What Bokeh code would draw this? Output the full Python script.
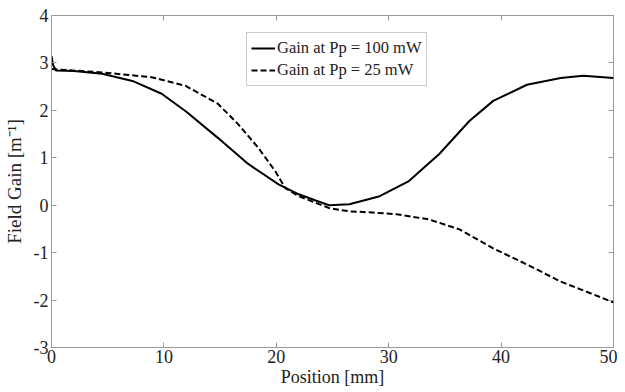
from bokeh.plotting import figure
from bokeh.models import LinearAxis, Legend, LegendItem, FixedTicker, Range1d
from bokeh.embed import file_html
from bokeh.resources import INLINE

# Data
x_100 = [0, 0.15, 0.4, 2, 4.5, 7.2, 9.8, 12.0, 14.8, 17.5, 20.2, 22.0, 23.5, 24.7, 26.5, 29.2, 31.8, 34.5, 37.2, 39.3, 42.3, 45.3, 47.3, 50]
gain_100 = [3.15, 2.95, 2.84, 2.83, 2.77, 2.62, 2.35, 1.97, 1.42, 0.87, 0.44, 0.23, 0.10, 0.0, 0.02, 0.19, 0.51, 1.08, 1.78, 2.20, 2.54, 2.68, 2.73, 2.68]

x_25 = [0, 4.5, 8.9, 11.9, 14.8, 16.6, 18.4, 19.9, 20.8, 22.0, 24.7, 26.5, 28.3, 30.7, 33.6, 36.3, 39.3, 42.3, 45.3, 48.2, 50]
gain_25 = [2.87, 2.80, 2.70, 2.52, 2.14, 1.71, 1.21, 0.72, 0.36, 0.19, -0.06, -0.13, -0.15, -0.19, -0.30, -0.51, -0.91, -1.25, -1.61, -1.88, -2.05]

x_ticks = [0, 10, 20, 30, 40, 50]
y_ticks = [-3, -2, -1, 0, 1, 2, 3, 4]
y_tick_labels = ["-3", "-2", "-1", "0", "1", "2", "3", "4"]

FONT = "Liberation Serif"
GRAY = "#9a9a9a"
TXT = "#222222"

p = figure(width=617, height=390, output_backend="svg", toolbar_location=None,
           x_range=Range1d(0, 50), y_range=Range1d(-3, 4),
           min_border_left=46, min_border_right=4, min_border_top=15, min_border_bottom=43)
p.grid.visible = False
p.outline_line_color = GRAY
p.outline_line_width = 1

for ax in [p.xaxis[0], p.yaxis[0]]:
    ax.axis_line_color = GRAY
    ax.major_tick_line_color = GRAY
    ax.major_tick_in = 5
    ax.major_tick_out = 0
    ax.minor_tick_line_color = None
    ax.major_label_text_font = FONT
    ax.major_label_text_font_size = "18px"
    ax.major_label_text_color = TXT
    ax.axis_label_text_font = FONT
    ax.axis_label_text_font_style = "normal"
    ax.axis_label_text_color = TXT

p.xaxis.ticker = FixedTicker(ticks=x_ticks)
p.yaxis.ticker = FixedTicker(ticks=y_ticks)
p.yaxis.major_label_overrides = dict(zip(y_ticks, y_tick_labels))
p.xaxis.axis_label = "Position [mm]"
p.yaxis.axis_label = "Field Gain [m⁻¹]"
p.xaxis.axis_label_text_font_size = "18px"
p.yaxis.axis_label_text_font_size = "19px"
p.xaxis.major_label_standoff = 2
p.yaxis.major_label_standoff = 3
p.xaxis.axis_label_standoff = 1
p.yaxis.axis_label_standoff = 6

for loc, tick in [("right", y_ticks), ("above", x_ticks)]:
    a = LinearAxis(ticker=FixedTicker(ticks=tick),
                   major_label_overrides={t: "" for t in tick},
                   major_label_text_font_size="1px",
                   axis_line_color=None, major_tick_line_color=GRAY,
                   major_tick_in=5, major_tick_out=0, minor_tick_line_color=None,
                   major_label_standoff=0)
    p.add_layout(a, loc)

r1 = p.line(x_100, gain_100, line_color="black", line_width=2)
r2 = p.line(x_25, gain_25, line_color="black", line_width=2, line_dash="6 3")

legend = Legend(items=[LegendItem(label="Gain at Pp = 100 mW", renderers=[r1]),
                       LegendItem(label="Gain at Pp = 25 mW", renderers=[r2])],
                location=(195, 261))
legend.label_text_font = FONT
legend.label_text_font_size = "16.5px"
legend.label_text_color = TXT
legend.border_line_color = GRAY
legend.border_line_width = 1
legend.glyph_width = 24
legend.glyph_height = 22
legend.label_standoff = 2
legend.label_height = 22
legend.padding = 4
legend.spacing = 0
legend.margin = 0
p.add_layout(legend)

open("out.html", "w").write(file_html(p, INLINE))
